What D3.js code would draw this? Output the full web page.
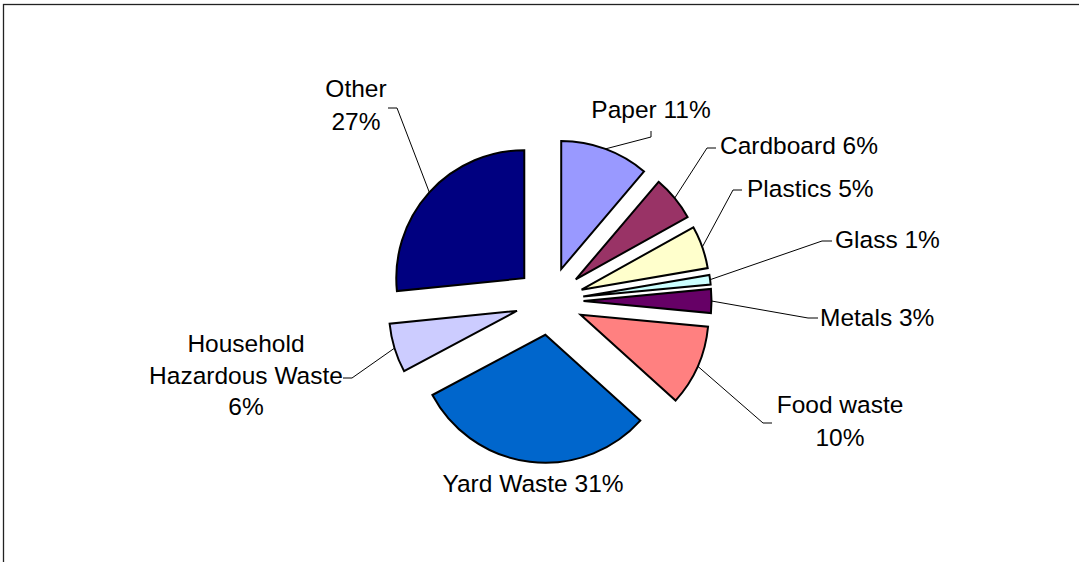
<!DOCTYPE html>
<html>
<head>
<meta charset="utf-8">
<script src="https://cdn.jsdelivr.net/npm/d3@7"></script>
<style>
  html, body { margin: 0; padding: 0; background: #fff; }
  #chart { width: 1079px; height: 562px; }
  text { font-family: "Liberation Sans", Arial, sans-serif; font-size: 24.5px; fill: #000; }
</style>
</head>
<body>
<div id="chart"></div>
<script>
// Pie data (percent of waste stream)
const categories = ['Paper', 'Cardboard', 'Plastics', 'Glass', 'Metals',
  'Food waste', 'Yard Waste', 'Household Hazardous Waste', 'Other'];
const values = [11.2, 5.7, 5.4, 1.2, 3.0, 10.2, 30.5, 6.2, 26.6];
const colors = ['#9999FF', '#993366', '#FFFFCC', '#CCFFFF', '#660066',
  '#FF8080', '#0066CC', '#CCCCFF', '#000080'];

// Label placement (Excel-style manual positions) -- layout only
// lines: how the label text is broken; x/y: text anchor + first baseline
// elbow/end: leader line bend and end point next to the label
const labelLayout = [
  { lines: ['{n} {p}'], x: 651, y: 118, anchor: 'middle', elbow: [651, 137], end: [651, 131] },
  { lines: ['{n} {p}'], x: 720, y: 154, anchor: 'start', elbow: [707, 148], end: [716, 148] },
  { lines: ['{n} {p}'], x: 747, y: 197, anchor: 'start', elbow: [733, 190], end: [742, 190] },
  { lines: ['{n} {p}'], x: 835, y: 248, anchor: 'start', elbow: [822, 241], end: [832, 241] },
  { lines: ['{n} {p}'], x: 820, y: 326, anchor: 'start', elbow: [808, 318], end: [818, 318] },
  { lines: ['{n}', '{p}'], x: 840, y: 413, anchor: 'middle', elbow: [763, 423], end: [772, 423] },
  { lines: ['{n} {p}'], x: 533, y: 492, anchor: 'middle' },
  { lines: ['Household', 'Hazardous Waste', '{p}'], x: 246, y: 352, anchor: 'middle', lineHeight: 31.5, elbow: [352, 378], end: [343, 378] },
  { lines: ['{n}', '{p}'], x: 356, y: 97, anchor: 'middle', elbow: [397, 108], end: [388, 108] },
];

const width = 1079;
const height = 562;
const cx = 549.5;
const cy = 301;
const radius = 128;
const explode = 34;

const svg = d3.select('#chart').append('svg')
  .attr('width', width)
  .attr('height', height);

// Chart area border (only top/left edges fall inside the picture)
svg.append('rect')
  .attr('x', 3.5)
  .attr('y', 4.5)
  .attr('width', width + 20)
  .attr('height', height + 20)
  .attr('fill', 'none')
  .attr('stroke', '#222')
  .attr('stroke-width', 1.3);

const pie = d3.pie().sort(null).value(d => d.value);
const data = categories.map((c, i) => ({ name: c, value: values[i], color: colors[i], layout: labelLayout[i] }));
const arcs = pie(data);

const arc = d3.arc().innerRadius(0).outerRadius(radius);
const outerPoint = d3.arc().innerRadius(radius).outerRadius(radius);

function offset(d) {
  const a = (d.startAngle + d.endAngle) / 2;
  return [explode * Math.sin(a), -explode * Math.cos(a)];
}

const g = svg.append('g').attr('transform', `translate(${cx},${cy})`);

g.selectAll('path.slice')
  .data(arcs)
  .enter()
  .append('path')
  .attr('class', 'slice')
  .attr('d', arc)
  .attr('transform', d => `translate(${offset(d)})`)
  .attr('fill', d => d.data.color)
  .attr('stroke', '#000')
  .attr('stroke-width', 2)
  .attr('stroke-linejoin', 'miter');

// Leader lines
arcs.forEach((d) => {
  const l = d.data.layout;
  if (!l.elbow) return;
  const o = offset(d);
  const p = outerPoint.centroid(d);
  const start = [cx + o[0] + p[0], cy + o[1] + p[1]];
  svg.append('polyline')
    .attr('points', [start, l.elbow, l.end].map(q => q.join(',')).join(' '))
    .attr('fill', 'none')
    .attr('stroke', '#000')
    .attr('stroke-width', 1);
});

// Labels
arcs.forEach((d) => {
  const l = d.data.layout;
  const pct = `${Math.round(d.data.value)}%`;
  const lh = l.lineHeight || 33;
  const t = svg.append('text')
    .attr('text-anchor', l.anchor);
  l.lines.forEach((line, i) => {
    t.append('tspan')
      .attr('x', l.x)
      .attr('y', l.y + i * lh)
      .text(line.replace('{n}', d.data.name).replace('{p}', pct));
  });
});
</script>
</body>
</html>
